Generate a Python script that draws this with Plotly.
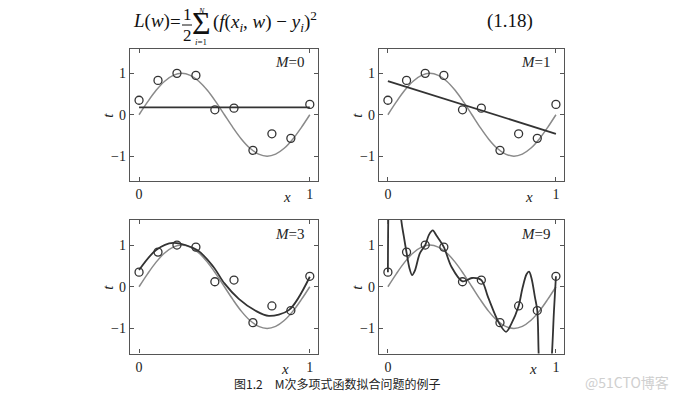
import plotly.graph_objects as go

# page body has an 8px margin, so the figure is drawn 8px smaller and all
# pixel positions below are given in window coordinates and shifted.
OFF = 8
W, H = 680 - OFF, 401 - OFF

# ---------------- data ----------------
pts_x = [0.0, 0.111, 0.222, 0.333, 0.444, 0.556, 0.667, 0.778, 0.889, 1.0]
pts_t = [0.35, 0.83, 1.0, 0.95, 0.12, 0.16, -0.86, -0.46, -0.57, 0.25]

sin_x = [0.0, 0.05, 0.1, 0.15, 0.2, 0.25, 0.3, 0.35, 0.4, 0.45, 0.5,
         0.55, 0.6, 0.65, 0.7, 0.75, 0.8, 0.85, 0.9, 0.95, 1.0]
sin_t = [0.0, 0.31, 0.59, 0.81, 0.95, 1.0, 0.95, 0.81, 0.59, 0.31, 0.0,
         -0.31, -0.59, -0.81, -0.95, -1.0, -0.95, -0.81, -0.59, -0.31, 0.0]

m0_x = [0.0, 1.0]
m0_t = [0.18, 0.18]

m1_x = [0.0, 1.0]
m1_t = [0.81, -0.46]

m3_x = [0.0, 0.10, 0.20, 0.34, 0.435, 0.5, 0.584, 0.68, 0.76, 0.877, 1.0]
m3_t = [0.40, 0.88, 1.05, 0.88, 0.48, 0.08, -0.29, -0.57, -0.70, -0.56, 0.24]

m9_x = [0.0, 0.003, 0.02, 0.05, 0.078, 0.095, 0.111, 0.128, 0.144, 0.16, 0.19,
        0.222, 0.245, 0.267, 0.29, 0.333, 0.378, 0.444, 0.5, 0.556, 0.596,
        0.66, 0.703, 0.733, 0.778, 0.80, 0.825, 0.84, 0.855, 0.875, 0.889,
        0.898, 0.93, 0.975, 0.988, 1.0]
m9_t = [0.35, 1.8, 4.0, 4.0, 1.65, 1.2, 0.82, 0.45, 0.28, 0.38, 0.8,
        1.0, 1.25, 1.35, 1.22, 0.95, 0.48, 0.13, 0.21, 0.16, -0.25,
        -0.86, -1.08, -0.9, -0.46, -0.05, 0.3, 0.36, 0.2, -0.25, -0.57,
        -1.7, -4.0, -1.7, -0.6, 0.25]

panel_labels = ["M=0", "M=1", "M=3", "M=9"]
fits = [(m0_x, m0_t, "linear"), (m1_x, m1_t, "linear"),
        (m3_x, m3_t, "spline"), (m9_x, m9_t, "spline")]

x_ticks = [0, 1]
x_ticktext = ["0", "1"]
y_ticks = [-1, 0, 1]
y_ticktext = ["\u22121", "0", "1"]

# ---------------- layout helpers ----------------
def px(x):
    return (x - OFF) / W

def py(y):
    return 1 - (y - OFF) / H

SERIF = "Liberation Serif, Times New Roman, serif"
GRAY = "#8a8a8a"
DARK = "#333333"
AXC = "#555555"

# panel boxes in window pixels: (left, right, top, bottom)
boxes = [(130, 318, 48.5, 181), (379, 564, 48.5, 181),
         (130, 318, 220, 353.5), (379, 564, 220, 353.5)]
xlab_pos = [(287, 197), (529, 197), (285, 369), (533, 369)]
XR = [-0.053, 1.048]
YR = [-1.6, 1.6]

fig = go.Figure()
annotations = []
shapes = []

for k in range(4):
    ax = "" if k == 0 else str(k + 1)
    xa, ya = "x" + ax, "y" + ax
    l, r, t, b = boxes[k]
    fig.add_trace(go.Scatter(x=sin_x, y=sin_t, mode="lines", line=dict(color=GRAY, width=1.5, shape="spline"),
                             xaxis=xa, yaxis=ya, showlegend=False, hoverinfo="skip"))
    fx, ft, shp = fits[k]
    fig.add_trace(go.Scatter(x=fx, y=ft, mode="lines", line=dict(color=DARK, width=1.8, shape=shp, smoothing=0.9),
                             xaxis=xa, yaxis=ya, showlegend=False, hoverinfo="skip"))
    fig.add_trace(go.Scatter(x=pts_x, y=pts_t, mode="markers",
                             marker=dict(symbol="circle-open", size=8, color=DARK, line=dict(width=1.3, color=DARK)),
                             xaxis=xa, yaxis=ya, showlegend=False, hoverinfo="skip", cliponaxis=False))
    common = dict(showline=True, linecolor=AXC, linewidth=1.4, mirror="ticks", ticks="inside", ticklen=4,
                  tickcolor=AXC, tickwidth=1.2, showgrid=False, zeroline=False,
                  tickfont=dict(family=SERIF, size=14, color="#222"))
    fig.layout["xaxis" + ax] = dict(domain=[px(l), px(r)], range=XR, tickvals=x_ticks, ticktext=x_ticktext,
                                    anchor=ya, **common)
    fig.layout["yaxis" + ax] = dict(domain=[py(b), py(t)], range=YR, tickvals=y_ticks, ticktext=y_ticktext,
                                    anchor=xa, **common)
    m, val = panel_labels[k].split("=")
    annotations.append(dict(x=px(r - 12), y=py(t + 13.5), xanchor="right", yanchor="middle",
                            text="<i>%s</i>=%s" % (m, val), font=dict(family=SERIF, size=15, color="#222")))
    xl, yl = xlab_pos[k]
    annotations.append(dict(x=px(xl), y=py(yl), xanchor="center", yanchor="middle",
                            text="<i>x</i>", font=dict(family=SERIF, size=15, color="#222")))
    annotations.append(dict(x=px(l - 22), y=py((t + b) / 2 + 1), xanchor="center", yanchor="middle",
                            textangle=-90, text="<i>t</i>", font=dict(family=SERIF, size=15, color="#222")))

# ---------------- formula ----------------
FS = 19
formula = [
    dict(x=px(131), y=py(21), xanchor="left", text="<i>L</i>(<i>w</i>)", font=dict(size=FS)),
    dict(x=px(175), y=py(21), xanchor="center", text="=", font=dict(size=FS)),
    dict(x=px(187), y=py(15), xanchor="center", text="1", font=dict(size=FS - 2)),
    dict(x=px(187), y=py(35), xanchor="center", text="2", font=dict(size=FS - 2)),
    dict(x=px(201), y=py(23), xanchor="center", text="\u03a3", font=dict(size=32)),
    dict(x=px(202), y=py(11), xanchor="center", text="<i>N</i>", font=dict(size=8)),
    dict(x=px(201), y=py(42), xanchor="center", text="<i>i</i>=1", font=dict(size=9)),
    dict(x=px(211), y=py(21), xanchor="left",
         text="(<i>f</i>(<i>x</i><sub><i>i</i></sub>, <i>w</i>) \u2212 <i>y</i><sub><i>i</i></sub>)<sup>2</sup>",
         font=dict(size=FS)),
    dict(x=px(510), y=py(21), xanchor="center", text="(1.18)", font=dict(size=FS)),
]
for a in formula:
    a.update(yanchor="middle")
    a["font"].update(family=SERIF, color="#111")
annotations += formula
shapes.append(dict(type="line", xref="paper", yref="paper", x0=px(182), x1=px(192), y0=py(25), y1=py(25),
                   line=dict(color="#111", width=1)))

# ---------------- caption & watermark ----------------
annotations.append(dict(x=px(232), y=py(383), xanchor="left", yanchor="middle",
                        text="图1.2\u3000M次多项式函数拟合问题的例子",
                        font=dict(family="Noto Sans CJK SC", size=12, color="#222")))
annotations.append(dict(x=px(671), y=py(382), xanchor="right", yanchor="middle",
                        text="@51CTO博客", font=dict(family="Noto Sans CJK SC", size=14, color="#cfcfcf")))

for a in annotations:
    a.update(xref="paper", yref="paper", showarrow=False)

fig.update_layout(width=W, height=H, margin=dict(l=0, r=0, t=0, b=0), paper_bgcolor="white",
                  plot_bgcolor="white", annotations=annotations, shapes=shapes, showlegend=False)

fig.write_html("out.html")
